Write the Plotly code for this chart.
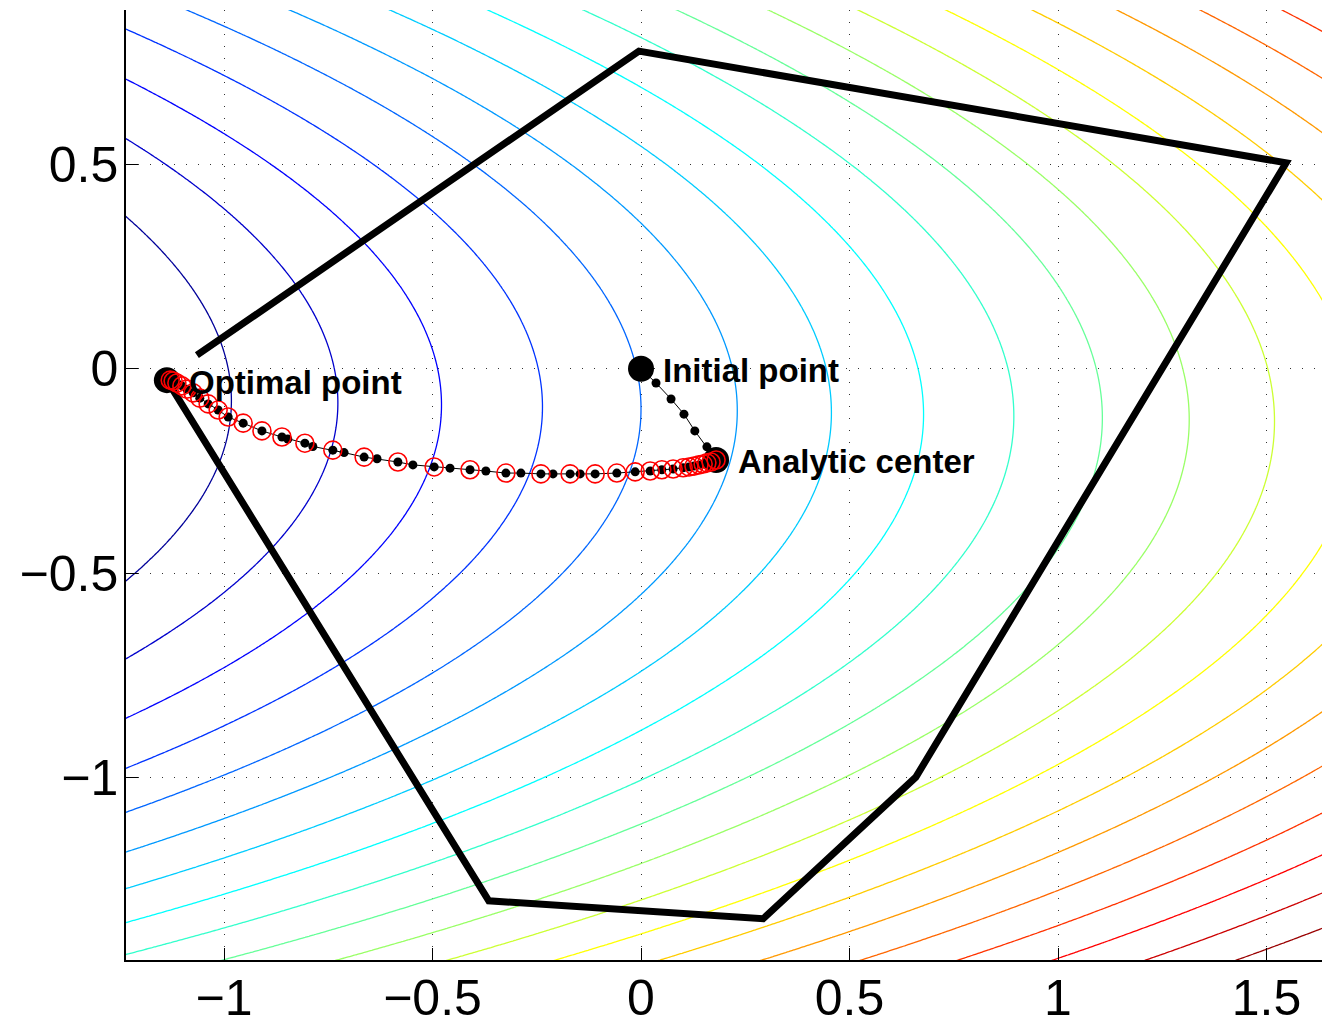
import numpy as np
import plotly.graph_objects as go

# ---------------- data ----------------
# objective contour field parameters
x_center = -10.0
y_offset = -0.098
tilt = -0.02
y_weight = 22.7
level_start = 76.65
level_step = 4.67
n_levels = 23

# feasible polygon (drawn as an open polyline, as in the reference)
poly_x = [-1.065, -0.005, 1.547, 0.659, 0.293, -0.365, -1.137]
poly_y = [0.033, 0.776, 0.503, -0.998, -1.344, -1.300, -0.028]

# all iterates (black dots), in order
iter_x = [0.0, 0.036, 0.072, 0.103, 0.129, 0.158, 0.180, 0.168, 0.158, 0.149, 0.139,
          0.127, 0.115, 0.101, 0.077, 0.050, 0.022, -0.014, -0.058, -0.110, -0.146,
          -0.170, -0.211, -0.240, -0.288, -0.324, -0.372, -0.410, -0.458, -0.496,
          -0.547, -0.583, -0.633, -0.664, -0.712, -0.739, -0.787, -0.806, -0.847,
          -0.861, -0.909, -0.954, -0.990, -1.014, -1.038, -1.058, -1.074, -1.089,
          -1.101, -1.113, -1.122, -1.129]
iter_y = [0.0, -0.035, -0.074, -0.111, -0.152, -0.191, -0.223, -0.228, -0.230, -0.233,
          -0.235, -0.238, -0.240, -0.242, -0.245, -0.247, -0.250, -0.252, -0.255,
          -0.257, -0.257, -0.257, -0.257, -0.257, -0.255, -0.255, -0.250, -0.247,
          -0.243, -0.240, -0.235, -0.228, -0.220, -0.216, -0.205, -0.199, -0.190,
          -0.182, -0.172, -0.167, -0.152, -0.133, -0.118, -0.101, -0.086, -0.072,
          -0.059, -0.050, -0.042, -0.035, -0.030, -0.028]

# central path points (red circles)
cp_x = [0.180, 0.168, 0.158, 0.149, 0.139, 0.127, 0.115, 0.101, 0.077, 0.050, 0.022,
        -0.014, -0.058, -0.110, -0.170, -0.240, -0.324, -0.410, -0.496, -0.583,
        -0.664, -0.739, -0.806, -0.861, -0.909, -0.954, -0.990, -1.014, -1.038,
        -1.058, -1.074, -1.089, -1.101, -1.113, -1.122, -1.129]
cp_y = [-0.223, -0.228, -0.230, -0.233, -0.235, -0.238, -0.240, -0.242, -0.245,
        -0.247, -0.250, -0.252, -0.255, -0.257, -0.257, -0.257, -0.255, -0.247,
        -0.240, -0.228, -0.216, -0.199, -0.182, -0.167, -0.152, -0.133, -0.118,
        -0.101, -0.086, -0.072, -0.059, -0.050, -0.042, -0.035, -0.030, -0.028]

# labelled points
label_names = ["Initial point", "Analytic center", "Optimal point"]
label_x = [0.0, 0.180, -1.137]
label_y = [0.0, -0.223, -0.028]

x_ticks = [-1, -0.5, 0, 0.5, 1, 1.5]
x_tick_text = ["\u22121", "\u22120.5", "0", "0.5", "1", "1.5"]
y_ticks = [-1, -0.5, 0, 0.5]
y_tick_text = ["\u22121", "\u22120.5", "0", "0.5"]

x_range = [-1.235, 1.633]
y_range = [-1.4447, 0.8764]

# ---------------- figure ----------------
gx = np.linspace(-1.3, 1.7, 400)
gy = np.linspace(-1.5, 0.95, 400)
GX, GY = np.meshgrid(gx, gy)
Z = (GX - x_center) ** 2 + y_weight * (GY - (y_offset + tilt * GX)) ** 2

jet = [[0.0, "rgb(0,0,128)"], [0.125, "rgb(0,0,255)"], [0.375, "rgb(0,255,255)"],
       [0.625, "rgb(255,255,0)"], [0.875, "rgb(255,0,0)"], [1.0, "rgb(128,0,0)"]]

zmin = level_start + 0.5 * level_step
zmax = zmin + 20 * level_step

fig = go.Figure()
fig.add_trace(go.Contour(
    x=gx, y=gy, z=Z, colorscale=jet, zauto=False, zmin=zmin, zmax=zmax,
    contours=dict(start=level_start, end=level_start + n_levels * level_step,
                  size=level_step, coloring="lines", showlabels=False),
    line=dict(width=1.3), showscale=False, hoverinfo="skip"))

fig.add_trace(go.Scatter(x=poly_x, y=poly_y, mode="lines",
                         line=dict(color="black", width=7), hoverinfo="skip"))

fig.add_trace(go.Scatter(x=label_x, y=label_y, mode="markers",
                         marker=dict(color="black", size=26), hoverinfo="skip"))

fig.add_trace(go.Scatter(x=iter_x, y=iter_y, mode="lines+markers",
                         line=dict(color="black", width=1),
                         marker=dict(color="black", size=9), hoverinfo="skip"))

fig.add_trace(go.Scatter(x=cp_x, y=cp_y, mode="markers",
                         marker=dict(symbol="circle-open", color="red", size=18,
                                     line=dict(width=1.6, color="red")),
                         hoverinfo="skip"))

for name, lx, ly in zip(label_names, label_x, label_y):
    fig.add_annotation(x=lx, y=ly, text="<b>" + name + "</b>", showarrow=False,
                       xanchor="left", yanchor="middle", xshift=20, yshift=-2,
                       font=dict(family="Liberation Sans, Arial", size=33, color="black"))

axis_common = dict(showgrid=True, gridcolor="#333", gridwidth=1, griddash="1px,11px",
                   zeroline=False, showline=True, linecolor="black", linewidth=1.5,
                   ticks="inside", ticklen=12, tickwidth=1, tickcolor="black",
                   tickfont=dict(family="Liberation Sans, Arial", size=50, color="black"),
                   mirror=False, automargin=False)

fig.update_xaxes(range=x_range, tickvals=x_ticks, ticktext=x_tick_text,
                 ticklabelstandoff=-7, **axis_common)
fig.update_yaxes(range=y_range, tickvals=y_ticks, ticktext=y_tick_text,
                 ticklabelstandoff=-4, **axis_common)

fig.update_layout(width=1322, height=1021, margin=dict(l=126, r=0, t=10, b=61),
                  plot_bgcolor="white", paper_bgcolor="white", showlegend=False)

fig.write_html("out.html")
